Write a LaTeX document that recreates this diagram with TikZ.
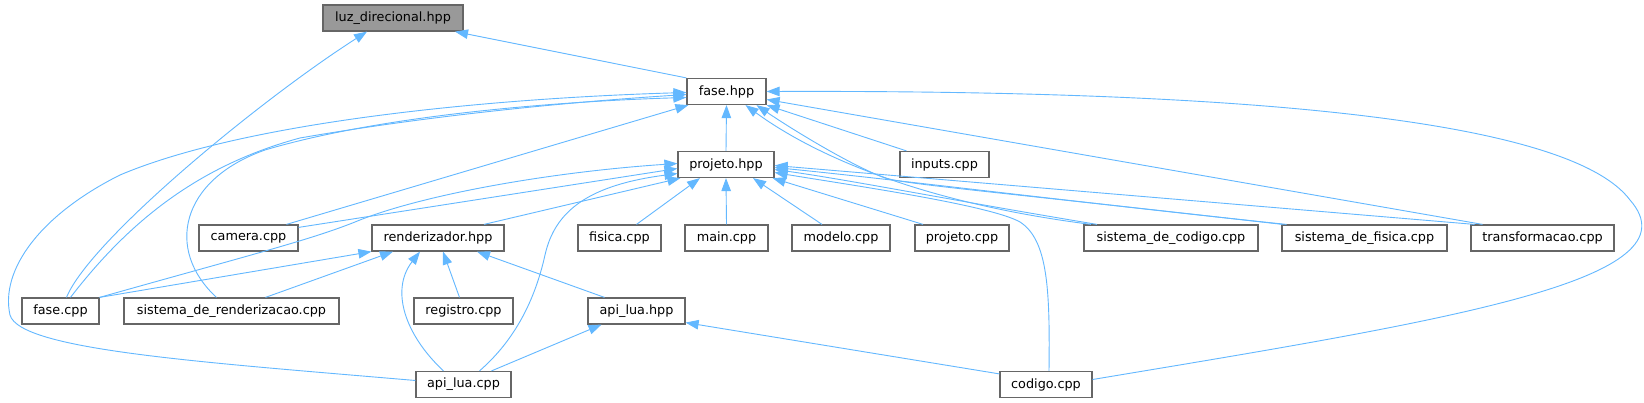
\documentclass[tikz,border=0pt]{standalone}
\usepackage{fontspec}
\setmainfont{DejaVu Sans}
\usetikzlibrary{arrows.meta}
\definecolor{edge}{RGB}{99,184,255}
\definecolor{frame}{RGB}{102,102,102}
\definecolor{shade}{RGB}{153,153,153}
\tikzset{
  >={Triangle[length=13pt,width=9.5pt]},
  box/.style={draw=frame,fill=white,line width=1.2pt,minimum width=#1,
    minimum height=26pt,inner sep=0pt,font=\fontsize{12.8}{14}\selectfont},
  box/.default=90pt,
  flow/.style={->,draw=edge,line width=0.9pt},
}
\begin{document}
\begin{tikzpicture}[x=1pt,y=-1pt]
  \path[use as bounding box,fill=white] (0,0) rectangle (1644,403);
  % headers
  \node[box=140pt,fill=shade] (luz) at (393,18) {luz\_direcional.hpp};
  \node[box=79pt] (faseh) at (726.5,91.5) {fase.hpp};
  \node[box=96pt] (projetoh) at (726,164.5) {projeto.hpp};
  \node[box=89pt] (inputs) at (944.5,164.5) {inputs.cpp};
  \node[box=99pt] (camera) at (248.5,238) {camera.cpp};
  \node[box=132pt] (renderizador) at (438,238) {renderizador.hpp};
  \node[box=83pt] (fisica) at (619.5,238) {fisica.cpp};
  \node[box=83pt] (main) at (726.5,238) {main.cpp};
  \node[box=98pt] (modelo) at (841,238) {modelo.cpp};
  \node[box=94pt] (projetocpp) at (962,238) {projeto.cpp};
  \node[box=174pt] (sistcod) at (1171,238) {sistema\_de\_codigo.cpp};
  \node[box=165pt] (sistfis) at (1364.5,238) {sistema\_de\_fisica.cpp};
  \node[box=143pt] (transf) at (1542.5,238) {transformacao.cpp};
  \node[box=77pt] (fasecpp) at (60.5,311) {fase.cpp};
  \node[box=215pt] (sistrend) at (231.5,311) {sistema\_de\_renderizacao.cpp};
  \node[box=99pt] (registro) at (463.5,311) {registro.cpp};
  \node[box=97pt] (apiluah) at (636.5,311) {api\_lua.hpp};
  \node[box=95pt] (apiluacpp) at (463.5,384.5) {api\_lua.cpp};
  \node[box=92pt] (codigo) at (1046,384.5) {codigo.cpp};
  % luz_direcional.hpp
  \draw[flow] (faseh.north west) -- ([xshift=62pt]luz.south);
  \draw[flow] ([xshift=6pt]fasecpp.north) .. controls (90,240) and (260,100) .. ([xshift=-26pt]luz.south);
  % fase.hpp
  \draw[flow] (projetoh.north) -- (faseh.south);
  \draw[flow] ([xshift=-38pt]inputs.north) -- (faseh.south east);
  \draw[flow] ([xshift=38pt]camera.north) -- ([xshift=2pt]faseh.south west);
  \draw[flow] ([xshift=-60pt]transf.north) -- ([yshift=-8pt]faseh.east);
  \draw[flow] ([xshift=10pt]fasecpp.north) .. controls (130,220) and (200,165) .. (300,138) .. controls (450,112) and (600,100) .. ([yshift=-3pt]faseh.west);
  \draw[flow] ([xshift=-15pt]sistrend.north) .. controls (165,250) and (180,180) .. (265,150) .. controls (400,110) and (600,100) .. ([yshift=-6pt]faseh.west);
  \draw[flow] ([yshift=4pt]apiluacpp.west) .. controls (200,362) and (20,350) .. (10,315) .. controls (0,270) and (40,215) .. (120,175) .. controls (250,120) and (500,98) .. ([yshift=-1pt]faseh.west);
  \draw[flow] ([xshift=-80pt]sistcod.north) .. controls (900,200) and (800,145) .. ([xshift=19pt]faseh.south);
  \draw[flow] ([xshift=-82pt]sistfis.north) .. controls (1000,192) and (910,185) .. (885,178) .. controls (850,165) and (790,128) .. ([xshift=30pt]faseh.south);
  \draw[flow] ([yshift=5pt]codigo.east) .. controls (1450,320) and (1700,280) .. (1630,200) .. controls (1570,120) and (1250,90) .. (faseh.east);
  % projeto.hpp
  \draw[flow] ([yshift=-3pt]camera.north east) -- ([yshift=-4pt]projetoh.west);
  \draw[flow] ([xshift=46pt]renderizador.north) -- ([xshift=3pt]projetoh.south west);
  \draw[flow] (fasecpp.north east) .. controls (250,255) and (310,240) .. (355,222) .. controls (420,195) and (550,172) .. ([yshift=1pt]projetoh.west);
  \draw[flow] ([xshift=16pt]apiluacpp.north) .. controls (515,340) and (535,300) .. (545,255) .. controls (555,210) and (590,185) .. ([yshift=-9pt]projetoh.west);
  \draw[flow] ([xshift=17pt]fisica.north) -- ([xshift=-26pt]projetoh.south);
  \draw[flow] (main.north) -- (projetoh.south);
  \draw[flow] ([xshift=-19pt]modelo.north) -- ([xshift=27pt]projetoh.south);
  \draw[flow] ([xshift=-39pt]projetocpp.north) -- ([xshift=-2pt]projetoh.south east);
  \draw[flow] ([xshift=-74pt]sistcod.north) .. controls (950,200) and (850,180) .. ([yshift=-5pt]projetoh.east);
  \draw[flow] ([xshift=-78pt]sistfis.north) .. controls (1100,205) and (900,180) .. ([yshift=-3pt]projetoh.east);
  \draw[flow] ([xshift=-68pt]transf.north) -- ([yshift=-1pt]projetoh.east);
  \draw[flow] ([xshift=3pt]codigo.north) .. controls (1050,290) and (1048,240) .. (1020,222) .. controls (990,205) and (850,185) .. ([yshift=-8pt]projetoh.east);
  % renderizador.hpp
  \draw[flow] (fasecpp.north east) -- (renderizador.south west);
  \draw[flow] ([xshift=34pt]sistrend.north) -- ([xshift=-45pt]renderizador.south);
  \draw[flow] ([xshift=-4pt]registro.north) -- ([xshift=5pt]renderizador.south);
  \draw[flow] ([xshift=-32pt]apiluah.north) -- ([xshift=39pt]renderizador.south);
  \draw[flow] ([xshift=-20pt]apiluacpp.north) .. controls (405,335) and (390,290) .. ([xshift=-18pt]renderizador.south);
  % api_lua.hpp
  \draw[flow] ([xshift=28pt]apiluacpp.north) -- ([xshift=-35pt]apiluah.south);
  \draw[flow] ([yshift=-3pt]codigo.north west) -- ([yshift=2pt]apiluah.south east);
\end{tikzpicture}
\end{document}
